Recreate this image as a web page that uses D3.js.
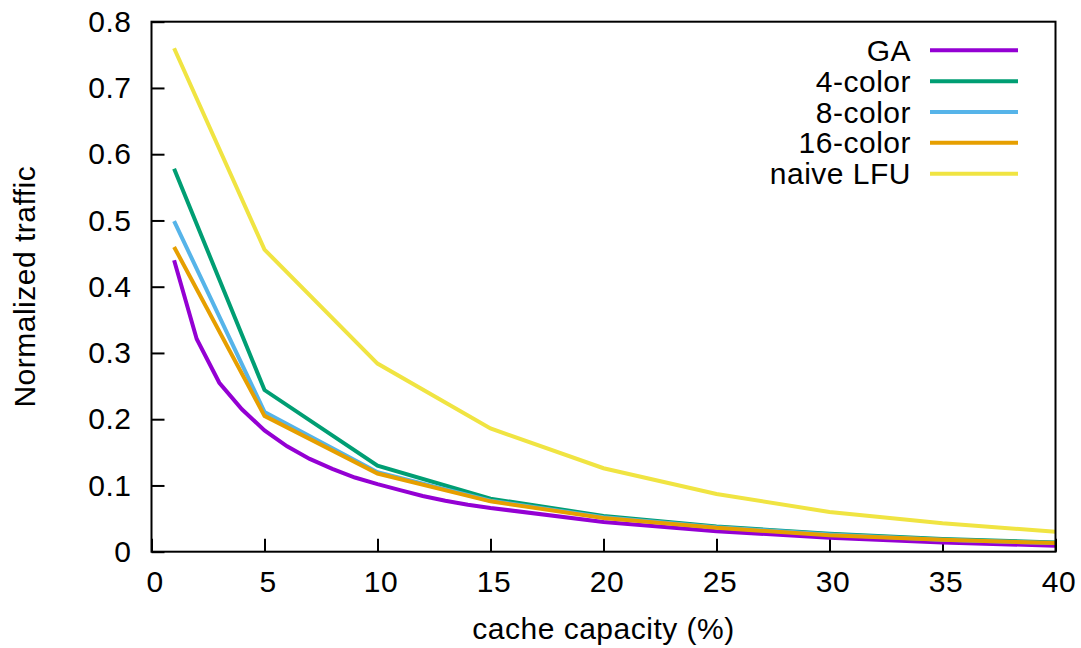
<!DOCTYPE html>
<html>
<head>
<meta charset="utf-8">
<script src="https://cdn.jsdelivr.net/npm/d3@7/dist/d3.min.js"></script>
<style>
  html, body { margin: 0; padding: 0; background: #fff; }
  svg { display: block; }
  text { font-family: "Liberation Sans", Arial, Helvetica, sans-serif; fill: #000; letter-spacing: 0.5px; }
</style>
</head>
<body>
<svg id="chart" width="1081" height="648"></svg>
<script>
// ---- data ----
const seriesNames = ["GA", "4-color", "8-color", "16-color", "naive LFU"];
const seriesColors = ["#9400d3", "#009e73", "#56b4e9", "#e69f00", "#f0e442"];

const gaX = [1, 2, 3, 4, 5, 6, 7, 8, 9, 10, 11, 12, 13, 14, 15, 20, 25, 30, 35, 40];
const gaY = [0.440, 0.321, 0.255, 0.215, 0.183, 0.159, 0.140, 0.125, 0.112, 0.102,
             0.093, 0.084, 0.077, 0.071, 0.066, 0.045, 0.031, 0.021, 0.014, 0.009];

const colorX = [1, 5, 10, 15, 20, 25, 30, 35, 40];
const color4Y = [0.578, 0.244, 0.130, 0.080, 0.054, 0.038, 0.027, 0.019, 0.014];
const color8Y = [0.499, 0.211, 0.120, 0.077, 0.052, 0.037, 0.026, 0.018, 0.013];
const color16Y = [0.460, 0.205, 0.118, 0.076, 0.051, 0.036, 0.025, 0.018, 0.013];
const lfuY = [0.760, 0.456, 0.284, 0.186, 0.126, 0.087, 0.060, 0.043, 0.030];

const xTicks = [0, 5, 10, 15, 20, 25, 30, 35, 40];
const yTicks = [0, 0.1, 0.2, 0.3, 0.4, 0.5, 0.6, 0.7, 0.8];

const xTitle = "cache capacity (%)";
const yTitle = "Normalized traffic";

// ---- layout ----
const mLeft = 151.5, mRight = 1055.5, mTop = 21.7, mBottom = 551.7;
const FS = 30;

const svg = d3.select("#chart");
const x = d3.scaleLinear().domain([0, 40]).range([mLeft, mRight]);
const y = d3.scaleLinear().domain([0, 0.8]).range([mBottom, mTop]);

// axes
const xAxis = d3.axisBottom(x).tickValues(xTicks).tickFormat(d3.format("d"))
  .tickSizeInner(-13).tickSizeOuter(0).tickPadding(19.5);
const yAxis = d3.axisLeft(y).tickValues(yTicks).tickFormat(d => d === 0 ? "0" : d3.format(".1f")(d))
  .tickSizeInner(-13).tickSizeOuter(0).tickPadding(20);

const gx = svg.append("g").attr("transform", `translate(0,${mBottom})`).call(xAxis);
const gy = svg.append("g").attr("transform", `translate(${mLeft},0)`).call(yAxis);
[gx, gy].forEach(g => {
  g.select(".domain").remove();
  g.selectAll(".tick line").attr("stroke", "#000").attr("stroke-width", 2);
  g.selectAll(".tick text").attr("font-size", FS).attr("font-family", "Liberation Sans, Arial, sans-serif").attr("fill", "#000");
});
gx.selectAll(".tick text").attr("dx", 3);

// series
const series = [
  { name: seriesNames[0], xs: gaX, ys: gaY, color: seriesColors[0] },
  { name: seriesNames[1], xs: colorX, ys: color4Y, color: seriesColors[1] },
  { name: seriesNames[2], xs: colorX, ys: color8Y, color: seriesColors[2] },
  { name: seriesNames[3], xs: colorX, ys: color16Y, color: seriesColors[3] },
  { name: seriesNames[4], xs: colorX, ys: lfuY, color: seriesColors[4] }
];

const line = d3.line().x(d => x(d[0])).y(d => y(d[1]));
const plot = svg.append("g");
series.forEach(s => {
  plot.append("path")
    .datum(s.xs.map((v, i) => [v, s.ys[i]]))
    .attr("d", line)
    .attr("fill", "none")
    .attr("stroke", s.color)
    .attr("stroke-width", 4)
    .attr("stroke-linejoin", "miter")
    .attr("stroke-linecap", "butt");
});

// frame
svg.append("rect")
  .attr("x", mLeft).attr("y", mTop)
  .attr("width", mRight - mLeft).attr("height", mBottom - mTop)
  .attr("fill", "none").attr("stroke", "#000").attr("stroke-width", 2);

// legend
const legend = svg.append("g");
const legTop = 50.3, legStep = 30.85;
series.forEach((s, i) => {
  const ly = legTop + i * legStep;
  legend.append("text")
    .attr("x", 911).attr("y", ly + 10.5)
    .attr("text-anchor", "end")
    .attr("font-size", FS)
    .text(s.name);
  legend.append("line")
    .attr("x1", 930).attr("x2", 1018)
    .attr("y1", ly).attr("y2", ly)
    .attr("stroke", s.color).attr("stroke-width", 4);
});

// titles
svg.append("text")
  .attr("x", (mLeft + mRight) / 2).attr("y", 639)
  .attr("text-anchor", "middle")
  .attr("font-size", FS)
  .text(xTitle);

svg.append("text")
  .attr("transform", `translate(35,${(mTop + mBottom) / 2}) rotate(-90)`)
  .attr("text-anchor", "middle")
  .attr("font-size", FS)
  .text(yTitle);
</script>
</body>
</html>
